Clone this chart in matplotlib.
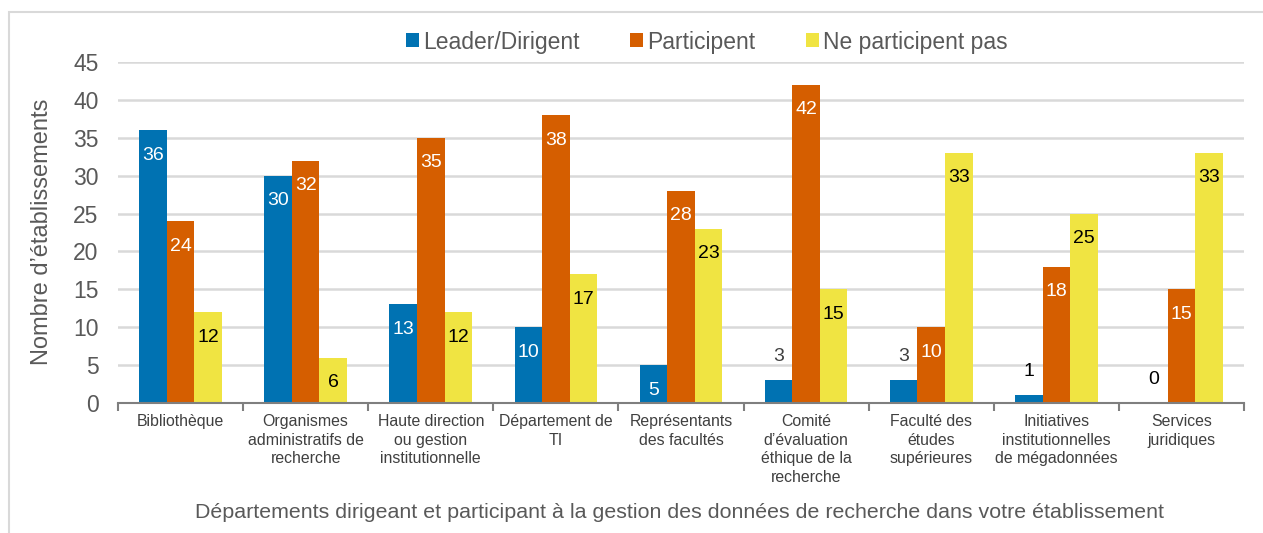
import matplotlib
matplotlib.use("Agg")
import matplotlib.pyplot as plt
from matplotlib.patches import Rectangle
import numpy as np

plt.rcParams['font.family'] = ['Liberation Sans', 'DejaVu Sans']

categories = [
    "Bibliothèque",
    "Organismes\nadministratifs de\nrecherche",
    "Haute direction\nou gestion\ninstitutionnelle",
    "Département de\nTI",
    "Représentants\ndes facultés",
    "Comité\nd’évaluation\néthique de la\nrecherche",
    "Faculté des\nétudes\nsupérieures",
    "Initiatives\ninstitutionnelles\nde mégadonnées",
    "Services\njuridiques",
]
leader = [36, 30, 13, 10, 5, 3, 3, 1, 0]
participant = [24, 32, 35, 38, 28, 42, 10, 18, 15]
non_participant = [12, 6, 12, 17, 23, 15, 33, 25, 33]
series_names = ["Leader/Dirigent", "Participent", "Ne participent pas"]
colors = ["#0072B2", "#D55E00", "#F0E442"]
inside_colors = ["white", "white", "black"]

fig = plt.figure(figsize=(12.63, 5.33), dpi=100)
ax = fig.add_axes([118/1263, 1-403/533, (1244-118)/1263, (403-62)/533])

# outer frame
fig.patches.append(Rectangle((9/1263, -0.1), 1.2, 1 - 12/533 + 0.1, transform=fig.transFigure,
                             fill=False, edgecolor="#D9D9D9", linewidth=1.5))

x = np.arange(len(categories))
w = 0.22
series = [leader, participant, non_participant]
for i, (vals, name, c) in enumerate(zip(series, series_names, colors)):
    pos = x + (i - 1) * w
    bars = ax.bar(pos, vals, width=w, color=c, label=name, zorder=3)
    for b, v in zip(bars, vals):
        cx = b.get_x() + b.get_width() / 2
        if v >= 5:
            ax.annotate(str(v), (cx, v), xytext=(0, -18), textcoords="offset points",
                        ha="center", va="center", fontsize=14, color=inside_colors[i], zorder=4)
        else:
            col = "#404040" if v == 3 else "black"
            ax.annotate(str(v), (cx, v), xytext=(0, 17), textcoords="offset points",
                        ha="center", va="center", fontsize=14, color=col, zorder=4)

ax.set_ylim(0, 45)
ax.set_xlim(-0.5, len(categories) - 0.5)
ax.set_yticks(range(0, 46, 5))
ax.yaxis.grid(True, color="#D9D9D9", linewidth=1.8, zorder=0)
ax.set_axisbelow(True)
for s in ["top", "right", "left"]:
    ax.spines[s].set_visible(False)
ax.spines["bottom"].set_color("#7F7F7F")
ax.spines["bottom"].set_linewidth(1.5)
ax.spines["bottom"].set_zorder(5)

ax.set_xticks(x)
ax.set_xticklabels(categories, fontsize=11.4, color="#404040", linespacing=1.3, va="top")
ax.tick_params(axis="x", which="major", length=0, pad=8)
ax.set_xticks(np.arange(-0.5, len(categories), 1), minor=True)
ax.tick_params(axis="x", which="minor", length=6, width=1.5, color="#7F7F7F")
ax.tick_params(axis="y", length=0, labelsize=16.5, labelcolor="#595959", pad=14)

fig.text(42/1263, 1-231.5/533, "Nombre d’établissements", rotation=90,
         ha="center", va="center", fontsize=17, color="#595959")
fig.text(679/1263, 1-512/533,
         "Départements dirigeant et participant à la gestion des données de recherche dans votre établissement",
         ha="center", va="center", fontsize=15.4, color="#595959")

leg = fig.legend(loc="center", bbox_to_anchor=(707/1263, 1-42/533), ncol=3, frameon=False,
                 fontsize=16.5, handlelength=0.55, handleheight=0.55, handletextpad=0.2,
                 columnspacing=2.2, labelcolor="#595959")

fig.savefig("out.png", dpi=100)
